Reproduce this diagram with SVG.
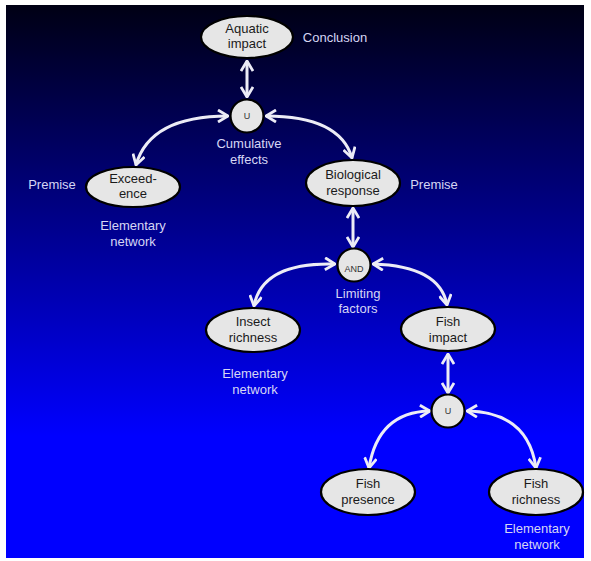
<svg xmlns="http://www.w3.org/2000/svg" width="591" height="561" viewBox="0 0 591 561">
<defs>
<linearGradient id="bg" x1="0" y1="0" x2="0" y2="1">
<stop offset="0" stop-color="#000014"/>
<stop offset="0.78" stop-color="#0000ff"/>
<stop offset="1" stop-color="#0000ff"/>
</linearGradient>
<marker id="ah" viewBox="0 0 12 14" refX="11" refY="7" markerWidth="12" markerHeight="14" markerUnits="userSpaceOnUse" orient="auto-start-reverse">
<path d="M1,1 L11,7 L1,13" fill="none" stroke="#ececf6" stroke-width="2.8" stroke-linejoin="miter"/>
</marker>
<style>
.node ellipse,.node circle{fill:#e6e6e6;stroke:#000;stroke-width:2.2}
.nt{font-family:"Liberation Sans",Arial,sans-serif;font-size:13px;fill:#1a1a1a;text-anchor:middle}
.ct{font-family:"Liberation Sans",Arial,sans-serif;font-size:9px;fill:#333;text-anchor:middle}
.lbl{font-family:"Liberation Sans",Arial,sans-serif;font-size:13px;fill:#d6d6f4;text-anchor:middle}
.edge{fill:none;stroke:#ececf6;stroke-width:3;marker-start:url(#ah);marker-end:url(#ah)}
</style>
</defs>
<rect x="0" y="0" width="591" height="561" fill="#fff"/>
<rect x="6" y="5" width="578" height="553" fill="url(#bg)"/>

<g id="connectors">
<path class="edge" d="M247,61 L247,97"/>
<path class="edge" d="M228,116 Q150,116 136,165"/>
<path class="edge" d="M266,116 Q340,116 352,158"/>
<path class="edge" d="M353,208 L353,247"/>
<path class="edge" d="M335,264 Q262,262 254,306"/>
<path class="edge" d="M373,264 Q440,266 447,305"/>
<path class="edge" d="M448,354 L448,393"/>
<path class="edge" d="M430,411 Q378,412 369,468"/>
<path class="edge" d="M467,411 Q528,412 536,468"/>
</g>

<g id="aquatic-impact" class="node">
<ellipse cx="247" cy="37" rx="46" ry="21"/>
<text class="nt" x="247" y="33">Aquatic</text>
<text class="nt" x="247" y="48">impact</text>
</g>
<g id="cumulative-u" class="node">
<circle cx="247" cy="116" r="16.5"/>
<text class="ct" x="247" y="119">U</text>
</g>
<g id="exceedence" class="node">
<ellipse cx="133" cy="187" rx="47" ry="20"/>
<text class="nt" x="133" y="183">Exceed-</text>
<text class="nt" x="133" y="198">ence</text>
</g>
<g id="biological-response" class="node">
<ellipse cx="353" cy="183" rx="47" ry="23"/>
<text class="nt" x="353" y="179">Biological</text>
<text class="nt" x="353" y="195">response</text>
</g>
<g id="limiting-and" class="node">
<circle cx="354" cy="265" r="16.5"/>
<text class="ct" x="354" y="272">AND</text>
</g>
<g id="insect-richness" class="node">
<ellipse cx="253" cy="330" rx="47" ry="22"/>
<text class="nt" x="253" y="326">Insect</text>
<text class="nt" x="253" y="342">richness</text>
</g>
<g id="fish-impact" class="node">
<ellipse cx="448" cy="329" rx="47" ry="22"/>
<text class="nt" x="448" y="326">Fish</text>
<text class="nt" x="448" y="342">impact</text>
</g>
<g id="fish-u" class="node">
<circle cx="448" cy="411" r="16.5"/>
<text class="ct" x="448" y="414">U</text>
</g>
<g id="fish-presence" class="node">
<ellipse cx="368" cy="492" rx="47" ry="23"/>
<text class="nt" x="368" y="488">Fish</text>
<text class="nt" x="368" y="504">presence</text>
</g>
<g id="fish-richness" class="node">
<ellipse cx="536" cy="492" rx="47" ry="23"/>
<text class="nt" x="536" y="488">Fish</text>
<text class="nt" x="536" y="504">richness</text>
</g>

<g id="labels">
<text class="lbl" x="335" y="42">Conclusion</text>
<text class="lbl" x="249" y="148">Cumulative</text>
<text class="lbl" x="249" y="164">effects</text>
<text class="lbl" x="52" y="189">Premise</text>
<text class="lbl" x="434" y="189">Premise</text>
<text class="lbl" x="133" y="230">Elementary</text>
<text class="lbl" x="133" y="246">network</text>
<text class="lbl" x="358" y="298">Limiting</text>
<text class="lbl" x="358" y="313">factors</text>
<text class="lbl" x="255" y="378">Elementary</text>
<text class="lbl" x="255" y="394">network</text>
<text class="lbl" x="537" y="533">Elementary</text>
<text class="lbl" x="537" y="549">network</text>
</g>
</svg>
